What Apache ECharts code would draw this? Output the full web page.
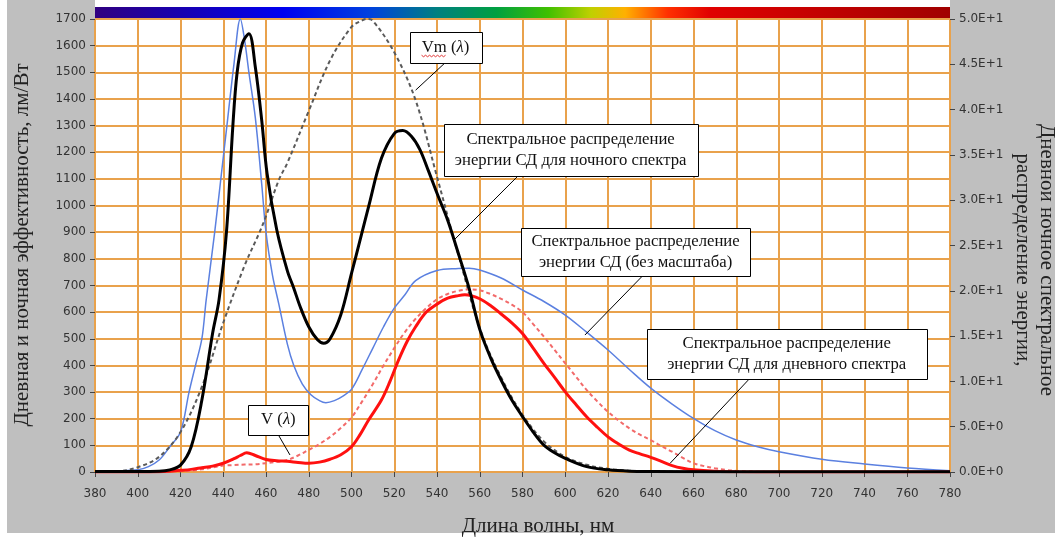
<!DOCTYPE html>
<html>
<head>
<meta charset="utf-8">
<title>Спектральное распределение энергии СД</title>
<style>
  html, body { margin: 0; padding: 0; background: #fff; }
  #chart { width: 1055px; height: 537px; }
</style>
<script src="https://cdn.jsdelivr.net/npm/echarts@6/dist/echarts.min.js"></script>
</head>
<body>
<div id="chart"></div>
<script>
  // спектр СД без масштаба (правая ось)
  var blueNm = [380, 390, 400, 405, 410, 415, 420, 424, 427, 430, 432, 436, 440, 442, 445, 448, 450, 452, 455, 458,
    460, 463, 466, 470, 473, 477, 481, 485, 488, 492, 496, 500, 505, 510, 515, 520, 525, 530, 540, 550,
    555, 560, 570, 580, 590, 600, 610, 620, 630, 640, 650, 660, 670, 680, 690, 700, 720, 740, 760, 780]
  var blueVal = [0.06, 0.12, 0.24, 0.59, 1.32, 2.79, 4.41, 8.82, 11.76, 14.71, 18.97, 26.47, 34.71, 38.82, 45.0, 50.0, 47.65, 44.12, 39.12, 31.76,
    26.47, 21.76, 18.53, 14.12, 11.76, 9.71, 8.53, 7.88, 7.65, 7.88, 8.38, 9.12, 11.32, 13.68, 16.03, 18.09, 19.56, 21.12, 22.24, 22.47,
    22.5, 22.29, 21.41, 20.09, 18.82, 17.32, 15.44, 13.47, 11.32, 9.26, 7.5, 5.91, 4.56, 3.53, 2.79, 2.24, 1.41, 0.88, 0.44, 0.15]

  // ночной спектр СД (правая ось)
  var blackNm = [380, 400, 410, 415, 420, 425, 430, 435, 438, 441.5, 444.5, 446.5, 449, 452, 455, 458, 460.5, 465, 470, 473,
    476, 480, 484, 487, 490, 495, 500, 504, 508, 514, 520, 524, 528, 532, 536, 540, 545, 550, 555, 560,
    565, 570, 575, 580, 585, 590, 595, 600, 610, 620, 630, 640, 700, 780]
  var blackVal = [0.06, 0.06, 0.09, 0.24, 0.76, 2.79, 7.94, 15.29, 18.97, 26.47, 38.24, 44.12, 47.35, 48.38, 44.71, 38.82, 32.94, 26.76, 22.2, 20.29,
    18.24, 16.03, 14.62, 14.21, 14.71, 17.35, 21.91, 25.59, 29.29, 34.62, 37.35, 37.68, 37.06, 35.59, 33.24, 30.76, 27.79, 24.12, 20.29, 15.74,
    12.65, 10.15, 7.94, 6.12, 4.41, 2.97, 2.12, 1.5, 0.59, 0.24, 0.09, 0.06, 0.03, 0.03]

  // дневной спектр СД (правая ось)
  var redNm = [380, 400, 410, 415, 420, 425, 430, 435, 440, 445, 448, 451, 455, 460, 465, 470, 475, 480, 485, 490,
    495, 500, 504, 508, 514, 518, 522, 526, 530, 535, 540, 545, 550, 553, 556, 560, 565, 570, 575, 580,
    585, 590, 595, 600, 605, 610, 615, 620, 625, 630, 635, 640, 645, 650, 655, 660, 670, 680, 700, 780]
  var redVal = [0, 0, 0.03, 0.09, 0.18, 0.29, 0.47, 0.65, 0.97, 1.47, 1.82, 2.12, 1.82, 1.38, 1.24, 1.18, 1.06, 0.97, 1.09, 1.41,
    1.91, 2.79, 4.12, 5.74, 7.94, 10.0, 12.35, 14.41, 16.03, 17.65, 18.53, 19.18, 19.47, 19.56, 19.47, 19.12, 18.38, 17.44, 16.47, 15.29,
    13.68, 12.0, 10.44, 8.85, 7.44, 6.09, 4.94, 3.88, 3.09, 2.41, 2.0, 1.62, 1.18, 0.71, 0.41, 0.24, 0.09, 0.03, 0, 0]

  // Vm(λ), лм/Вт (левая ось)
  var vmNm = [380, 390, 400, 410, 420, 430, 440, 450, 457, 460, 466, 470, 480, 490, 500, 505, 507, 510, 520, 530,
    540, 548, 550, 560, 570, 580, 590, 600, 610, 620, 630, 640, 660]
  var vmVal = [0, 2, 18, 57, 150, 320, 560, 775, 900, 960, 1096, 1160, 1355, 1545, 1670, 1695, 1700, 1693, 1575, 1395,
    1108, 870, 815, 540, 355, 215, 115, 57, 27, 12, 5, 2, 0]

  // V(λ), лм/Вт (левая ось)
  var vNm = [380, 420, 430, 440, 445, 450, 455, 460, 465, 470, 475, 480, 485, 490, 495, 500, 505, 510, 515, 520,
    525, 530, 535, 540, 545, 550, 555, 560, 565, 570, 575, 580, 585, 590, 595, 600, 605, 610, 615, 620,
    625, 630, 635, 640, 645, 650, 655, 660, 665, 670, 675, 680, 690, 700]
  var vVal = [0, 3, 10, 24, 26, 28, 29, 33, 38, 45, 62, 83, 105, 132, 165, 205, 265, 330, 400, 465,
    525, 575, 615, 648, 668, 680, 685, 682, 668, 650, 628, 600, 555, 508, 458, 408, 358, 308, 265, 226,
    193, 164, 140, 120, 97, 76, 53, 33, 22, 14, 8, 4, 1, 0]

  var spectrumStops = [
    [0, '#300080'], [0.1, '#1800b0'], [0.22, '#0000f0'], [0.32, '#0040e0'], [0.4, '#008080'],
    [0.47, '#00a040'], [0.53, '#40c000'], [0.58, '#c0d000'], [0.62, '#ffb000'], [0.67, '#ff3000'],
    [0.72, '#e00000'], [1, '#a00000']
  ]

  // подписи: центр рамки, размер, начало и конец выноски (в единицах левой оси)
  var notes = [
    {text: 'Vm ({i|λ})', at: [544, 1594], size: [72, 31], from: [543.7, 1535], to: [530, 1433], squiggle: true},
    {text: 'Спектральное распределение\nэнергии СД для ночного спектра', at: [602.5, 1208], size: [254, 52], from: [577.4, 1107], to: [548.4, 874]},
    {text: 'Спектральное распределение\nэнергии СД (без масштаба)', at: [632.9, 825], size: [229, 48], from: [635.8, 733], to: [609.2, 514]},
    {text: 'Спектральное распределение\nэнергии СД для дневного спектра', at: [703.6, 442], size: [280, 50], from: [685.6, 345], to: [649.1, 33]},
    {text: 'V ({i|λ})', at: [465.8, 195], size: [60, 30], from: [465.8, 139], to: [471.2, 64]}
  ]

  function zip (xs, ys) {
    return xs.map(function (x, i) { return [x, ys[i]] })
  }

  var grid = '#e9a24c'
  var tickFont = {fontFamily: 'DejaVu Sans', fontSize: 12, color: '#333'}
  var serif = '"Liberation Serif", serif'

  function line (name, axis, nm, val, color, width, type) {
    return {
      name: name,
      type: 'line',
      yAxisIndex: axis,
      data: zip(nm, val),
      showSymbol: false,
      smooth: 0.35,
      silent: true,
      lineStyle: {color: color, width: width, type: type || 'solid'}
    }
  }

  var chart = echarts.init(document.getElementById('chart'))
  chart.setOption({
    animation: false,
    backgroundColor: '#bfbfbf',
    grid: {left: 95, right: 105, top: 19, bottom: 65, show: true, backgroundColor: '#fff', borderWidth: 0},
    xAxis: {
      type: 'value',
      min: 380,
      max: 780,
      interval: 20,
      axisLine: {show: false},
      axisTick: {show: true, length: 5, lineStyle: {color: '#444'}},
      axisLabel: Object.assign({margin: 16, formatter: function (v) { return String(v) }}, tickFont),
      splitLine: {show: true, lineStyle: {color: grid, width: 2}}
    },
    yAxis: [
      {
        type: 'value',
        min: 0,
        max: 1700,
        interval: 100,
        axisLine: {show: false},
        axisTick: {show: true, length: 5, lineStyle: {color: '#444'}},
        axisLabel: Object.assign({margin: 9, formatter: function (v) { return String(v) }}, tickFont),
        splitLine: {show: true, lineStyle: {color: grid, width: 2}}
      },
      {
        type: 'value',
        position: 'right',
        min: 0,
        max: 50,
        interval: 5,
        axisLine: {show: false},
        axisTick: {show: true, length: 5, lineStyle: {color: '#444'}},
        axisLabel: Object.assign({
          margin: 9,
          formatter: function (v) { return v.toExponential(1).toUpperCase() }
        }, tickFont),
        splitLine: {show: false}
      }
    ],
    series: [
      line('СД (без масштаба)', 1, blueNm, blueVal, '#5b80e0', 1.5),
      line('Vm(λ)', 0, vmNm, vmVal, '#5a5a5a', 2, [4, 3]),
      line('V(λ)', 0, vNm, vVal, '#f26a6a', 2, [4, 3]),
      line('дневной спектр', 1, redNm, redVal, '#ff1010', 3),
      line('ночной спектр', 1, blackNm, blackVal, '#000', 3)
    ]
  })

  function px (p) {
    return chart.convertToPixel({xAxisIndex: 0, yAxisIndex: 0}, p)
  }

  var left = px([380, 0])
  var right = px([780, 1700])
  var g = [
    {type: 'rect', z: 1, shape: {x: 0, y: 0, width: 7, height: 537}, style: {fill: '#fff'}},
    {type: 'rect', z: 1, shape: {x: 0, y: 533, width: 1055, height: 4}, style: {fill: '#fff'}},
    {type: 'rect', z: 1, shape: {x: left[0], y: 0, width: right[0] - left[0], height: 7}, style: {fill: '#fff'}},
    {
      type: 'rect', z: 1,
      shape: {x: left[0], y: 7, width: right[0] - left[0], height: right[1] - 8},
      style: {
        fill: new echarts.graphic.LinearGradient(0, 0, 1, 0, spectrumStops.map(function (s) {
          return {offset: s[0], color: s[1]}
        }))
      }
    },
    {
      type: 'text', z: 5, x: 22, y: 245, rotation: Math.PI / 2,
      style: {text: 'Дневная и ночная эффективность, лм/Вт', font: '21px ' + serif, fill: '#222', align: 'center', verticalAlign: 'middle'}
    },
    {
      type: 'text', z: 5, x: 1035, y: 260, rotation: -Math.PI / 2,
      style: {text: 'Дневнои ночное спектральное\nраспределение энергии,', font: '21px ' + serif, fill: '#222', align: 'center', verticalAlign: 'middle', lineHeight: 24}
    },
    {
      type: 'text', z: 5, x: 538, y: 526,
      style: {text: 'Длина волны, нм', font: '21px ' + serif, fill: '#222', align: 'center', verticalAlign: 'middle'}
    }
  ]

  notes.forEach(function (n) {
    var c = px(n.at)
    var a = px(n.from)
    var b = px(n.to)
    g.push({type: 'line', z: 100, shape: {x1: a[0], y1: a[1], x2: b[0], y2: b[1]}, style: {stroke: '#000', lineWidth: 1}})
    g.push({
      type: 'rect', z: 101,
      shape: {x: Math.round(c[0] - n.size[0] / 2) + 0.5, y: Math.round(c[1] - n.size[1] / 2) + 0.5, width: n.size[0], height: n.size[1]},
      style: {fill: '#fff', stroke: '#000', lineWidth: 1}
    })
    g.push({
      type: 'text', z: 102, x: c[0], y: c[1],
      style: {
        text: n.text, font: '16.7px ' + serif, fill: '#111', align: 'center', verticalAlign: 'middle', lineHeight: 21,
        rich: {i: {fontStyle: 'italic', fontFamily: 'Liberation Serif', fontSize: 16.7, fill: '#111'}}
      }
    })
    if (n.squiggle) {
      // волнистое подчёркивание проверки орфографии под «Vm»
      var pts = []
      for (var i = 0; i <= 12; i++) pts.push([c[0] - 24 + i * 2, c[1] + 8 + (i % 2) * 1.5])
      g.push({type: 'polyline', z: 103, shape: {points: pts}, style: {stroke: '#e03030', lineWidth: 1, fill: null}})
    }
  })

  chart.setOption({graphic: g})
</script>
</body>
</html>
